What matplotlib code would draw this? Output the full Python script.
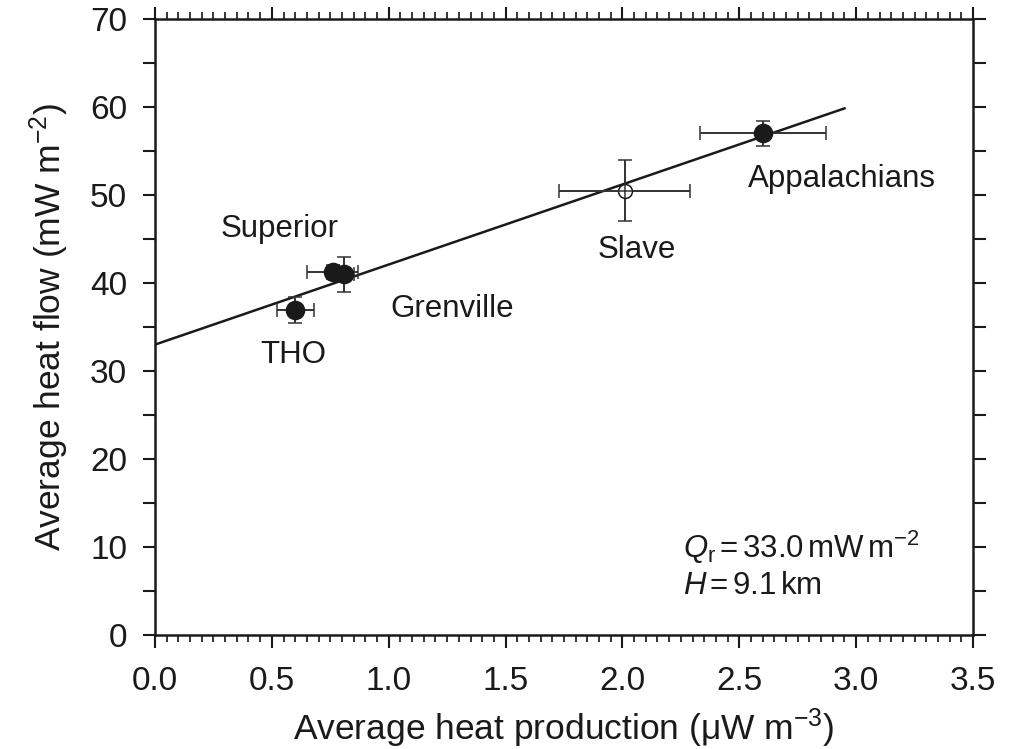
import matplotlib
matplotlib.use("Agg")
import matplotlib.pyplot as plt
from matplotlib.ticker import MultipleLocator

plt.rcParams['font.family'] = ['Liberation Sans', 'DejaVu Sans']
plt.rcParams['mathtext.fontset'] = 'custom'
plt.rcParams['mathtext.rm'] = 'Liberation Sans'
plt.rcParams['mathtext.it'] = 'Liberation Sans:italic'
plt.rcParams['axes.unicode_minus'] = True

# province averages
regions = ["THO", "Superior", "Grenville", "Slave", "Appalachians"]
heat_prod = [0.60, 0.76, 0.81, 2.01, 2.60]
heat_flow = [36.9, 41.2, 41.0, 50.5, 57.0]
prod_err = [0.08, 0.11, 0.04, 0.28, 0.27]
flow_err = [1.5, 0.8, 2.0, 3.5, 1.4]
filled = [True, True, True, False, True]

# linear fit Q = Qr + H * A
qr = 33.0
h_depth = 9.1
fit_x = [0.0, 2.95]

# where the names go (data coords)
label_pos = {
    "THO": (0.59, 31.8),
    "Superior": (0.535, 46.1),
    "Grenville": (1.27, 37.0),
    "Slave": (2.06, 43.75),
    "Appalachians": (2.94, 51.8),
}

ink = "#1a1a1a"

fig = plt.figure(figsize=(10.25, 7.49), dpi=100)
ax = fig.add_axes([0.1512, 0.1522, 0.7981, 0.8224])

ax.plot(fit_x, [qr + h_depth * x for x in fit_x], color=ink, lw=1.8, zorder=2)

for i, name in enumerate(regions):
    face = ink if filled[i] else "white"
    ms = 13 if filled[i] else 10
    ax.errorbar(heat_prod[i], heat_flow[i], xerr=prod_err[i], yerr=flow_err[i],
                fmt='o', ms=ms, mfc=face, mec=ink, mew=1.1, ecolor="#333333",
                elinewidth=1.4, capsize=5, capthick=1.4, zorder=3)
    if not filled[i]:
        ax.plot(heat_prod[i], heat_flow[i], marker='+', ms=10, color="#333333", mew=1.1, zorder=4)
    lx, ly = label_pos[name]
    ax.text(lx, ly, name, fontsize=22.5, ha='center', va='center', color=ink)

ax.text(2.26, 10.0, r"$Q_\mathrm{r}$$\,$=$\,$33.0$\,$mW$\,$m$^{-2}$", fontsize=22.5,
        ha='left', va='center', color=ink)
ax.text(2.26, 5.6, r"$H$$\,$=$\,$9.1$\,$km", fontsize=22.5, ha='left', va='center', color=ink)

ax.set_xlim(0, 3.5)
ax.set_ylim(0, 70)
ax.xaxis.set_major_locator(MultipleLocator(0.5))
ax.xaxis.set_minor_locator(MultipleLocator(0.05))
ax.yaxis.set_major_locator(MultipleLocator(10))
ax.yaxis.set_minor_locator(MultipleLocator(5))
ax.xaxis.set_major_formatter(matplotlib.ticker.FormatStrFormatter('%.1f'))

ax.tick_params(axis='x', which='major', direction='out', length=9, width=1.5,
               top=True, pad=13, labelsize=24, colors=ink)
ax.tick_params(axis='x', which='minor', direction='out', length=5, width=1.1, top=True)
ax.tick_params(axis='y', which='both', direction='out', length=9, width=1.5,
               right=True, pad=11, labelsize=24, colors=ink)

for sp in ax.spines.values():
    sp.set_linewidth(1.8)
    sp.set_color(ink)

ax.set_xlabel("Average heat production (μW m$^{-3}$)", fontsize=25.5, color=ink, labelpad=7)
ax.set_ylabel("Average heat flow (mW m$^{-2}$)", fontsize=25.5, color=ink, labelpad=14)

fig.savefig("out.png", dpi=100)
